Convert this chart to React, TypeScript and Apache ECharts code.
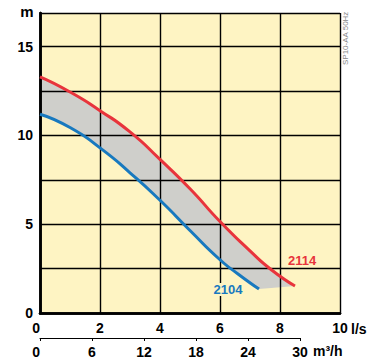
import React, { useEffect, useRef } from "react";
import * as echarts from "echarts";

// Flow (l/s) and head (m)
const RED_Q = [0, 1, 2, 3, 4, 5, 6, 7, 7.7, 8.5];
const RED_H = [13.3, 12.45, 11.4, 10.2, 8.65, 7.0, 5.15, 3.5, 2.45, 1.52];
const BLUE_Q = [0, 1, 2, 3, 4, 5, 6, 6.6, 7.3];
const BLUE_H = [11.2, 10.45, 9.3, 7.9, 6.35, 4.65, 3.0, 2.2, 1.35];

const RED_NAME = "2114";
const BLUE_NAME = "2104";
const Y_UNIT = "m";
const X_UNIT = "l/s";
const X2_UNIT = "m³/h";
const NOTE = "SP10-AA 50Hz";

const FONT = "'Liberation Sans', Arial, Helvetica, sans-serif";
const RED = "#e8343c";
const BLUE = "#1879bf";
const BG = "#fef4c3";
const GRAY = "#cfcfcb";

export default function App() {
  const ref = useRef<HTMLDivElement>(null);
  useEffect(() => {
    document.body.style.margin = "0";
    if (!ref.current) return;
    const chart = echarts.init(ref.current, undefined, { renderer: "svg" });
    const labelStyle = { color: "#000", fontFamily: FONT, fontWeight: "bold" as const, fontSize: 14 };
    const frameLine = { show: true, lineStyle: { color: "#000", width: 2.5 } };
    const option: any = {
      animation: false,
      grid: [
        { left: 40, top: 13, width: 300, height: 300, show: true, backgroundColor: BG, borderWidth: 0 },
        { left: 40, top: 337, width: 260, height: 1 },
      ],
      xAxis: [
        {
          type: "value", gridIndex: 0, min: 0, max: 10, interval: 2, position: "bottom", z: 3,
          axisLine: frameLine, axisTick: { show: false },
          splitLine: { show: true, lineStyle: { color: "#000", width: 1.4 } },
          axisLabel: { ...labelStyle, margin: 8, alignMinLabel: "right" },
        },
        {
          type: "value", gridIndex: 0, min: 0, max: 10, interval: 2, position: "top", z: 3,
          axisLine: frameLine, axisTick: { show: false }, axisLabel: { show: false }, splitLine: { show: false },
        },
        {
          type: "value", gridIndex: 1, min: 0, max: 30, interval: 6, position: "bottom",
          axisLine: { show: true, onZero: false, lineStyle: { color: "#000", width: 1 } },
          axisTick: { show: true, length: 3, lineStyle: { color: "#000", width: 1 } },
          splitLine: { show: false },
          axisLabel: { ...labelStyle, margin: 7, alignMinLabel: "right" },
        },
      ],
      yAxis: [
        {
          type: "value", gridIndex: 0, min: 0, max: 16.9, interval: 2.5, position: "left", z: 3,
          axisLine: frameLine, axisTick: { show: false },
          splitLine: { show: true, lineStyle: { color: "#000", width: 1.4 } },
          axisLabel: {
            ...labelStyle, margin: 7,
            formatter: (v: number) => (Math.abs(v % 5) < 1e-6 ? String(v) : ""),
          },
        },
        {
          type: "value", gridIndex: 0, min: 0, max: 16.9, interval: 2.5, position: "right", z: 3,
          axisLine: frameLine, axisTick: { show: false }, axisLabel: { show: false }, splitLine: { show: false },
        },
        { type: "value", gridIndex: 1, show: false, min: 0, max: 1 },
      ],
      series: [
        {
          type: "custom", xAxisIndex: 0, yAxisIndex: 0, z: 1, silent: true,
          data: [[0, 0]],
          renderItem: (_p: any, api: any) => {
            const pts: number[][] = [];
            RED_Q.forEach((q, i) => pts.push(api.coord([q, RED_H[i]])));
            for (let i = BLUE_Q.length - 1; i >= 0; i--) pts.push(api.coord([BLUE_Q[i], BLUE_H[i]]));
            return { type: "polygon", shape: { points: pts }, style: { fill: GRAY } };
          },
        },
        {
          type: "line", name: RED_NAME, xAxisIndex: 0, yAxisIndex: 0, z: 5,
          data: RED_Q.map((q, i) => [q, RED_H[i]]),
          smooth: 0.6, showSymbol: false, lineStyle: { color: RED, width: 3 },
        },
        {
          type: "line", name: BLUE_NAME, xAxisIndex: 0, yAxisIndex: 0, z: 5,
          data: BLUE_Q.map((q, i) => [q, BLUE_H[i]]),
          smooth: 0.6, showSymbol: false, lineStyle: { color: BLUE, width: 3 },
        },
      ],
      graphic: [
        { type: "text", x: 27, y: 11, z: 100, style: { text: Y_UNIT, ...labelStyle, fill: "#000", fontSize: 15, align: "center", verticalAlign: "middle" } },
        { type: "text", x: 351, y: 329, z: 100, style: { text: X_UNIT, ...labelStyle, fill: "#000", align: "left", verticalAlign: "middle" } },
        { type: "text", x: 313, y: 351, z: 100, style: { text: X2_UNIT, ...labelStyle, fill: "#000", align: "left", verticalAlign: "middle" } },
        { type: "text", x: 302, y: 260, z: 100, style: { text: RED_NAME, fontFamily: FONT, fontWeight: "bold", fontSize: 13, fill: RED, align: "center", verticalAlign: "middle" } },
        { type: "text", x: 228, y: 289.5, z: 100, style: { text: BLUE_NAME, fontFamily: FONT, fontWeight: "bold", fontSize: 13, fill: BLUE, align: "center", verticalAlign: "middle", backgroundColor: BG, padding: [0, 1] } },
        { type: "text", x: 345, y: 65, z: 100, rotation: Math.PI / 2, style: { text: NOTE, fontFamily: FONT, fontSize: 8, fill: "#888", align: "left", verticalAlign: "middle" } },
      ],
    };
    chart.setOption(option);
    return () => chart.dispose();
  }, []);
  return <div ref={ref} style={{ width: 385, height: 363 }} />;
}
